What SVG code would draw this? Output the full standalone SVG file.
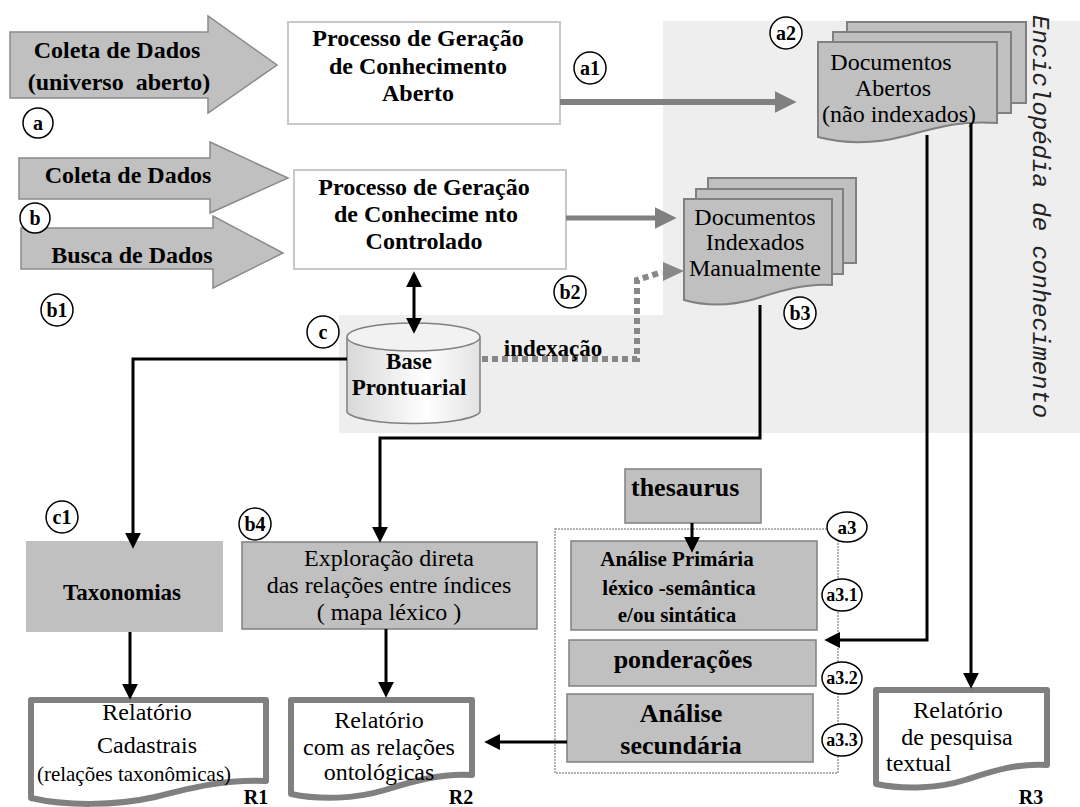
<svg xmlns="http://www.w3.org/2000/svg" width="1080" height="807" viewBox="0 0 1080 807">
<defs>
<style>
.b{font-family:"Liberation Serif","Times New Roman",serif;font-weight:bold;fill:#000;text-anchor:middle}
.r{font-family:"Liberation Serif","Times New Roman",serif;fill:#000;text-anchor:middle}
.big{fill:#c0c0c0;stroke:#8a8a8a;stroke-width:1.5}
.proc{fill:#fff;stroke:#c8c8c8;stroke-width:2}
.doc{fill:#c0c0c0;stroke:#808080;stroke-width:2}
.rep{fill:#fff;stroke:#808080;stroke-width:6;stroke-linejoin:round}
.gbox{fill:#c0c0c0;stroke:#808080;stroke-width:1.5}
.lbl{fill:#fff;stroke:#000;stroke-width:1.5}
.con{fill:none;stroke:#000;stroke-width:3}
.gcon{fill:none;stroke:#808080;stroke-width:6}
</style>
<marker id="ah" viewBox="0 0 10 10" refX="7" refY="5" markerWidth="16" markerHeight="16" markerUnits="userSpaceOnUse" orient="auto-start-reverse"><path d="M0,0 L10,5 L0,10 z" fill="#000"/></marker>
<marker id="gh" viewBox="0 0 10 10" refX="7" refY="5" markerWidth="22" markerHeight="22" markerUnits="userSpaceOnUse" orient="auto"><path d="M0,0 L10,5 L0,10 z" fill="#808080"/></marker>
<linearGradient id="cyl" x1="0" y1="0" x2="1" y2="0"><stop offset="0" stop-color="#d8d8d8"/><stop offset="0.6" stop-color="#ffffff"/><stop offset="1" stop-color="#e2e2e2"/></linearGradient>
</defs>
<rect width="1080" height="807" fill="#fff"/>
<polygon points="663,21 1080,21 1080,433 339,433 339,315 663,315" fill="#eeeeee"/>
<text transform="translate(1033,15) rotate(90)" font-family="'Liberation Mono','Courier New',monospace" font-style="italic" font-size="24" fill="#222">Enciclopédia de conhecimento</text>

<g id="coleta-aberto">
<polygon class="big" points="10,32 208,32 208,16 277,65 208,113 208,98 10,98"/>
<text class="b" font-size="24" x="117" y="58">Coleta de Dados</text>
<text class="b" font-size="24" x="119" y="90" xml:space="preserve">(universo  aberto)</text>
</g>
<g id="coleta">
<polygon class="big" points="19,158 210,158 210,142 288,178 210,213 210,199 19,199"/>
<text class="b" font-size="24" x="128" y="183">Coleta de Dados</text>
</g>
<g id="busca">
<polygon class="big" points="21,228 213,228 213,216 283,253 213,288 213,269 21,269"/>
<text class="b" font-size="24" x="132" y="263">Busca de Dados</text>
</g>

<g id="proc-aberto">
<rect class="proc" x="288" y="22" width="272" height="102"/>
<text class="b" font-size="24" x="418" y="46">Processo de Geração</text>
<text class="b" font-size="24" x="418" y="74">de Conhecimento</text>
<text class="b" font-size="24" x="418" y="101">Aberto</text>
</g>
<g id="proc-controlado">
<rect class="proc" x="294" y="170" width="272" height="99"/>
<text class="b" font-size="24" x="424" y="195">Processo de Geração</text>
<text class="b" font-size="24" x="426" y="222">de Conhecime nto</text>
<text class="b" font-size="24" x="424" y="249">Controlado</text>
</g>

<g id="docs-abertos">
<rect class="doc" x="847" y="22" width="179" height="81"/>
<rect class="doc" x="833" y="32" width="178" height="81"/>
<path class="doc" d="M818,42 H997 V123 C960,120 935,128 905,136 C875,144 845,144 818,137 Z"/>
<text class="r" font-size="24" x="891" y="70">Documentos</text>
<text class="r" font-size="24" x="893" y="96">Abertos</text>
<text class="r" font-size="24" x="899" y="122">(não indexados)</text>
</g>
<g id="docs-indexados">
<rect class="doc" x="708" y="178" width="148" height="85"/>
<rect class="doc" x="696" y="189" width="147" height="85"/>
<path class="doc" d="M684,199 H832 V285 C805,283 780,291 755,299 C730,306 705,306 684,300 Z"/>
<text class="r" font-size="24" x="755" y="225">Documentos</text>
<text class="r" font-size="24" x="755" y="250">Indexados</text>
<text class="r" font-size="24" x="755" y="276">Manualmente</text>
</g>

<g id="base-prontuarial">
<path d="M347,337 V412 A67,13 0 0 0 480,412 V337" fill="url(#cyl)" stroke="#808080" stroke-width="1.5"/>
<ellipse cx="413.5" cy="337" rx="66.5" ry="14" fill="#f2f2f2" stroke="#808080" stroke-width="1.5"/>
<text class="b" font-size="23" x="409" y="369">Base</text>
<text class="b" font-size="23" x="409" y="395">Prontuarial</text>
</g>

<g id="taxonomias">
<rect x="26" y="541" width="197" height="91" fill="#c0c0c0"/>
<text class="b" font-size="23" x="122" y="600">Taxonomias</text>
</g>
<g id="exploracao">
<rect class="gbox" x="242" y="542" width="295" height="87"/>
<text class="r" font-size="24" x="389" y="566">Exploração direta</text>
<text class="r" font-size="24" x="389" y="593">das relações entre índices</text>
<text class="r" font-size="24" x="389" y="620" xml:space="preserve">( mapa léxico )</text>
</g>

<g id="thesaurus">
<rect class="gbox" x="625" y="469" width="136" height="54"/>
<text class="b" font-size="26" x="631" y="496" style="text-anchor:start">thesaurus</text>
</g>
<g id="a3-grupo">
<rect x="555" y="529" width="283" height="244" fill="none" stroke="#999" stroke-width="1.5" stroke-dasharray="2 1"/>
</g>
<g id="analise-primaria">
<rect class="gbox" x="571" y="541" width="246" height="89"/>
<text class="b" font-size="21" x="677" y="566">Análise Primária</text>
<text class="b" font-size="21" x="679" y="595">léxico -semântica</text>
<text class="b" font-size="21" x="677" y="622">e/ou sintática</text>
</g>
<g id="ponderacoes">
<rect class="gbox" x="569" y="640" width="247" height="46"/>
<text class="b" font-size="26" x="683" y="668">ponderações</text>
</g>
<g id="analise-secundaria">
<rect class="gbox" x="567" y="694" width="246" height="68"/>
<text class="b" font-size="26" x="681" y="722">Análise</text>
<text class="b" font-size="26" x="681" y="754">secundária</text>
</g>

<g id="r1">
<path class="rep" d="M31,700 H266 V781 C225,779 190,788 155,797 C115,806 65,806 31,798 Z"/>
<text class="r" font-size="24" x="147" y="720">Relatório</text>
<text class="r" font-size="24" x="147" y="753">Cadastrais</text>
<text class="r" font-size="21" x="134" y="781">(relações taxonômicas)</text>
<text class="b" font-size="20" x="256" y="804">R1</text>
</g>
<g id="r2">
<path class="rep" d="M291,700 H472 V775 C440,773 410,782 385,790 C355,799 320,800 291,794 Z"/>
<text class="r" font-size="24" x="379" y="728">Relatório</text>
<text class="r" font-size="24" x="379" y="755">com as relações</text>
<text class="r" font-size="24" x="379" y="780">ontológicas</text>
<text class="b" font-size="20" x="461" y="804">R2</text>
</g>
<g id="r3">
<path class="rep" d="M876,690 H1047 V765 C1015,763 990,772 965,780 C940,788 905,790 876,784 Z"/>
<text class="r" font-size="24" x="958" y="718">Relatório</text>
<text class="r" font-size="24" x="957" y="745">de pesquisa</text>
<text class="r" font-size="24" x="886" y="771" style="text-anchor:start">textual</text>
<text class="b" font-size="20" x="1031" y="804">R3</text>
</g>

<g id="connectors">
<path class="gcon" d="M560,102 H790" marker-end="url(#gh)"/>
<path class="gcon" d="M566,218 H670" marker-end="url(#gh)" style="stroke-width:5"/>
<path d="M482,359 H637 V280 L662,272" fill="none" stroke="#888" stroke-width="6" stroke-dasharray="6 4"/>
<polygon points="663,262 684,271 663,281" fill="#888"/>
<path class="con" d="M414,276 V329" marker-start="url(#ah)" marker-end="url(#ah)"/>
<path class="con" d="M347,359 H133 V544" marker-end="url(#ah)"/>
<path class="con" d="M130,632 V695" marker-end="url(#ah)"/>
<path class="con" d="M760,305 V438 H380 V538" marker-end="url(#ah)"/>
<path class="con" d="M386,629 V693" marker-end="url(#ah)"/>
<path class="con" d="M927,135 V640 H829" marker-end="url(#ah)"/>
<path class="con" d="M971,123 V684" marker-end="url(#ah)"/>
<path class="con" d="M692,523 V548" marker-end="url(#ah)"/>
<path class="con" d="M567,742 H489" marker-end="url(#ah)"/>
<text class="b" font-size="23" x="553" y="356">indexação</text>
</g>

<g id="labels">
<circle class="lbl" cx="38" cy="123" r="15"/><text class="b" font-size="20" x="38" y="130">a</text>
<circle class="lbl" cx="35" cy="218" r="15"/><text class="b" font-size="20" x="35" y="225">b</text>
<circle class="lbl" cx="57" cy="310" r="16"/><text class="b" font-size="20" x="57" y="317">b1</text>
<circle class="lbl" cx="590" cy="68" r="16"/><text class="b" font-size="20" x="590" y="75">a1</text>
<circle class="lbl" cx="786" cy="33" r="16"/><text class="b" font-size="20" x="786" y="40">a2</text>
<circle class="lbl" cx="570" cy="292" r="16"/><text class="b" font-size="20" x="570" y="299">b2</text>
<circle class="lbl" cx="800" cy="313" r="16"/><text class="b" font-size="20" x="800" y="320">b3</text>
<circle class="lbl" cx="323" cy="332" r="16"/><text class="b" font-size="20" x="323" y="339">c</text>
<circle class="lbl" cx="62" cy="517" r="16"/><text class="b" font-size="20" x="62" y="524">c1</text>
<circle class="lbl" cx="255" cy="524" r="16"/><text class="b" font-size="20" x="255" y="531">b4</text>
<ellipse class="lbl" cx="847" cy="527" rx="20" ry="15"/><text class="b" font-size="19" x="847" y="534">a3</text>
<ellipse class="lbl" cx="842" cy="595" rx="20" ry="16"/><text class="b" font-size="18" x="842" y="601">a3.1</text>
<ellipse class="lbl" cx="842" cy="678" rx="20" ry="16"/><text class="b" font-size="18" x="842" y="684">a3.2</text>
<ellipse class="lbl" cx="842" cy="740" rx="20" ry="16"/><text class="b" font-size="18" x="842" y="746">a3.3</text>
</g>
</svg>
